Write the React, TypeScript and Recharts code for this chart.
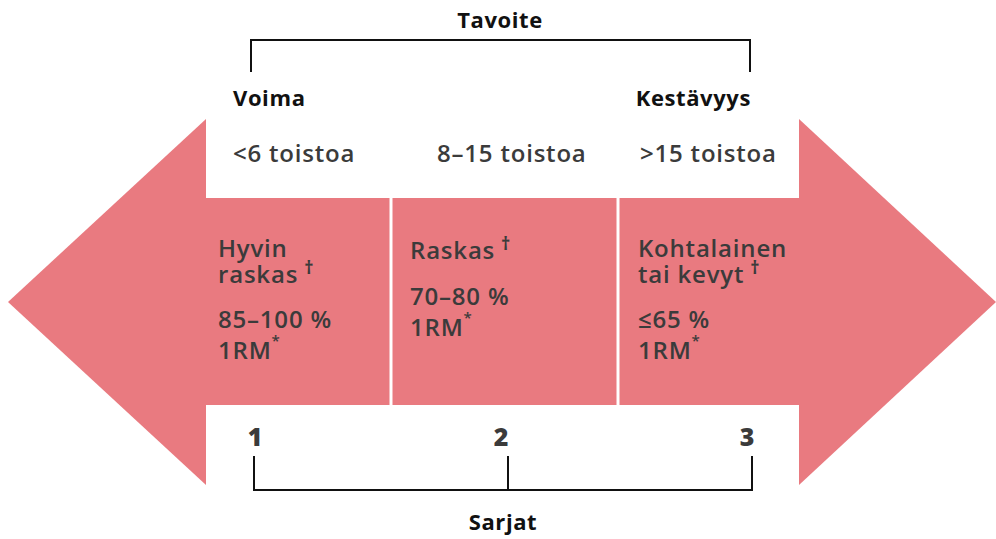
import { ComposedChart, XAxis, YAxis, ReferenceArea, ReferenceLine, Scatter } from "recharts";

// --- content ---
const GOAL_TITLE = "Tavoite";
const GOALS = ["Voima", "Kestävyys"];
const REPS = ["<6 toistoa", "8–15 toistoa", ">15 toistoa"];
const LOADS = [["Hyvin", "raskas"], ["Raskas"], ["Kohtalainen", "tai kevyt"]];
const PERCENTS = ["85–100 %", "70–80 %", "≤65 %"];
const SETS = ["1", "2", "3"];
const SETS_TITLE = "Sarjat";

// --- layout (diagram units = px) ---
const W = 996;
const H = 539;
const PANEL_EDGES = [205, 391, 618, 800];
const BODY_TOP = 198;
const BODY_BOTTOM = 405;
const HEAD_TOP = 119;
const HEAD_BOTTOM = 485;
const PINK = "#E97A80";
const INK = "#111111";
const GREY = "#3b3b3b";
const FONT = "'Open Sans', 'Noto Sans', sans-serif";

const PANEL_TEXT_X = [218, 410, 638];
const REPS_X = [233, 437, 640];
const SETS_X = [255, 501, 747];
const TOP_BRACKET = [251, 750];
const BOTTOM_BRACKET = [254, 508, 752];

type Lbl = {
  x: number;
  y: number;
  text: string;
  sup?: string;
  title?: boolean;
  num?: boolean;
  anchor?: "start" | "middle" | "end";
};

const labels: Lbl[] = [
  { x: 500, y: 28, text: GOAL_TITLE, title: true, anchor: "middle" },
  { x: 233, y: 106, text: GOALS[0], title: true },
  { x: 751, y: 106, text: GOALS[1], title: true, anchor: "end" },
  ...REPS.map((t, i) => ({ x: REPS_X[i], y: 162, text: t })),
  ...LOADS.flatMap((lines, i) =>
    lines.map((t, j) => ({
      x: PANEL_TEXT_X[i],
      y: (i === 1 ? 259 : 257) + j * 26,
      text: t,
      sup: j === lines.length - 1 ? "†" : undefined,
    }))
  ),
  ...PERCENTS.map((t, i) => ({ x: PANEL_TEXT_X[i], y: i === 1 ? 305 : 328, text: t })),
  ...PERCENTS.map((_, i) => ({ x: PANEL_TEXT_X[i], y: i === 1 ? 336 : 359, text: "1RM", sup: "*" })),
  ...SETS.map((t, i) => ({ x: SETS_X[i], y: 446, text: t, num: true, anchor: "middle" as const })),
  { x: 503, y: 530, text: SETS_TITLE, title: true, anchor: "middle" },
];

function TextMark(props: any) {
  const { cx, cy, payload } = props;
  const d: Lbl = payload;
  const size = d.title ? 22 : d.num ? 25 : 24;
  return (
    <text
      x={cx}
      y={cy}
      textAnchor={d.anchor ?? "start"}
      fontFamily={FONT}
      fontSize={size}
      fontWeight={d.title ? 700 : d.num ? 800 : 600}
      fill={d.title ? INK : GREY}
      letterSpacing={d.title ? 0.6 : d.num ? 0 : 0.8}
    >
      {d.text}
      {d.sup === "†" && (
        <tspan dx={6} dy={-9} fontSize={18} fontWeight={700}>
          †
        </tspan>
      )}
      {d.sup === "*" && (
        <tspan dx={0} dy={-13} fontSize={15}>
          *
        </tspan>
      )}
    </text>
  );
}

const leftHead = (p: any) => (
  <polygon
    points={`${p.x + p.width},${p.y} ${p.x},${p.y + p.height / 2} ${p.x + p.width},${p.y + p.height}`}
    fill={PINK}
  />
);
const rightHead = (p: any) => (
  <polygon
    points={`${p.x},${p.y} ${p.x + p.width},${p.y + p.height / 2} ${p.x},${p.y + p.height}`}
    fill={PINK}
  />
);

export default function App() {
  return (
    <div style={{ position: "absolute", left: 0, top: 0, background: "#fff" }}>
      <ComposedChart width={W} height={H} margin={{ top: 0, right: 0, bottom: 0, left: 0 }}>
        <XAxis type="number" dataKey="x" domain={[0, W]} hide allowDataOverflow />
        <YAxis type="number" dataKey="y" domain={[0, H]} reversed hide allowDataOverflow />

        <ReferenceArea x1={8} x2={PANEL_EDGES[0] + 1} y1={HEAD_TOP} y2={HEAD_BOTTOM} shape={leftHead} />
        <ReferenceArea x1={PANEL_EDGES[3] - 1} x2={W} y1={HEAD_TOP} y2={HEAD_BOTTOM} shape={rightHead} />
        {PANEL_EDGES.slice(0, 3).map((x1, i) => (
          <ReferenceArea
            key={i}
            x1={i === 0 ? x1 : x1 + 1.5}
            x2={i === 2 ? PANEL_EDGES[i + 1] : PANEL_EDGES[i + 1] - 1.5}
            y1={BODY_TOP}
            y2={BODY_BOTTOM}
            fill={PINK}
            fillOpacity={1}
            stroke="none"
          />
        ))}

        {/* Tavoite bracket */}
        <ReferenceLine
          segment={[{ x: TOP_BRACKET[0], y: 40 }, { x: TOP_BRACKET[1], y: 40 }]}
          stroke={INK}
          strokeWidth={2}
        />
        {TOP_BRACKET.map((x) => (
          <ReferenceLine key={x} segment={[{ x, y: 39 }, { x, y: 72 }]} stroke={INK} strokeWidth={2} />
        ))}

        {/* Sarjat bracket */}
        <ReferenceLine
          segment={[{ x: BOTTOM_BRACKET[0], y: 490 }, { x: BOTTOM_BRACKET[2], y: 490 }]}
          stroke={INK}
          strokeWidth={2}
        />
        {BOTTOM_BRACKET.map((x) => (
          <ReferenceLine key={x} segment={[{ x, y: 456 }, { x, y: 491 }]} stroke={INK} strokeWidth={2} />
        ))}

        <Scatter data={labels} shape={TextMark} isAnimationActive={false} />
      </ComposedChart>
    </div>
  );
}
